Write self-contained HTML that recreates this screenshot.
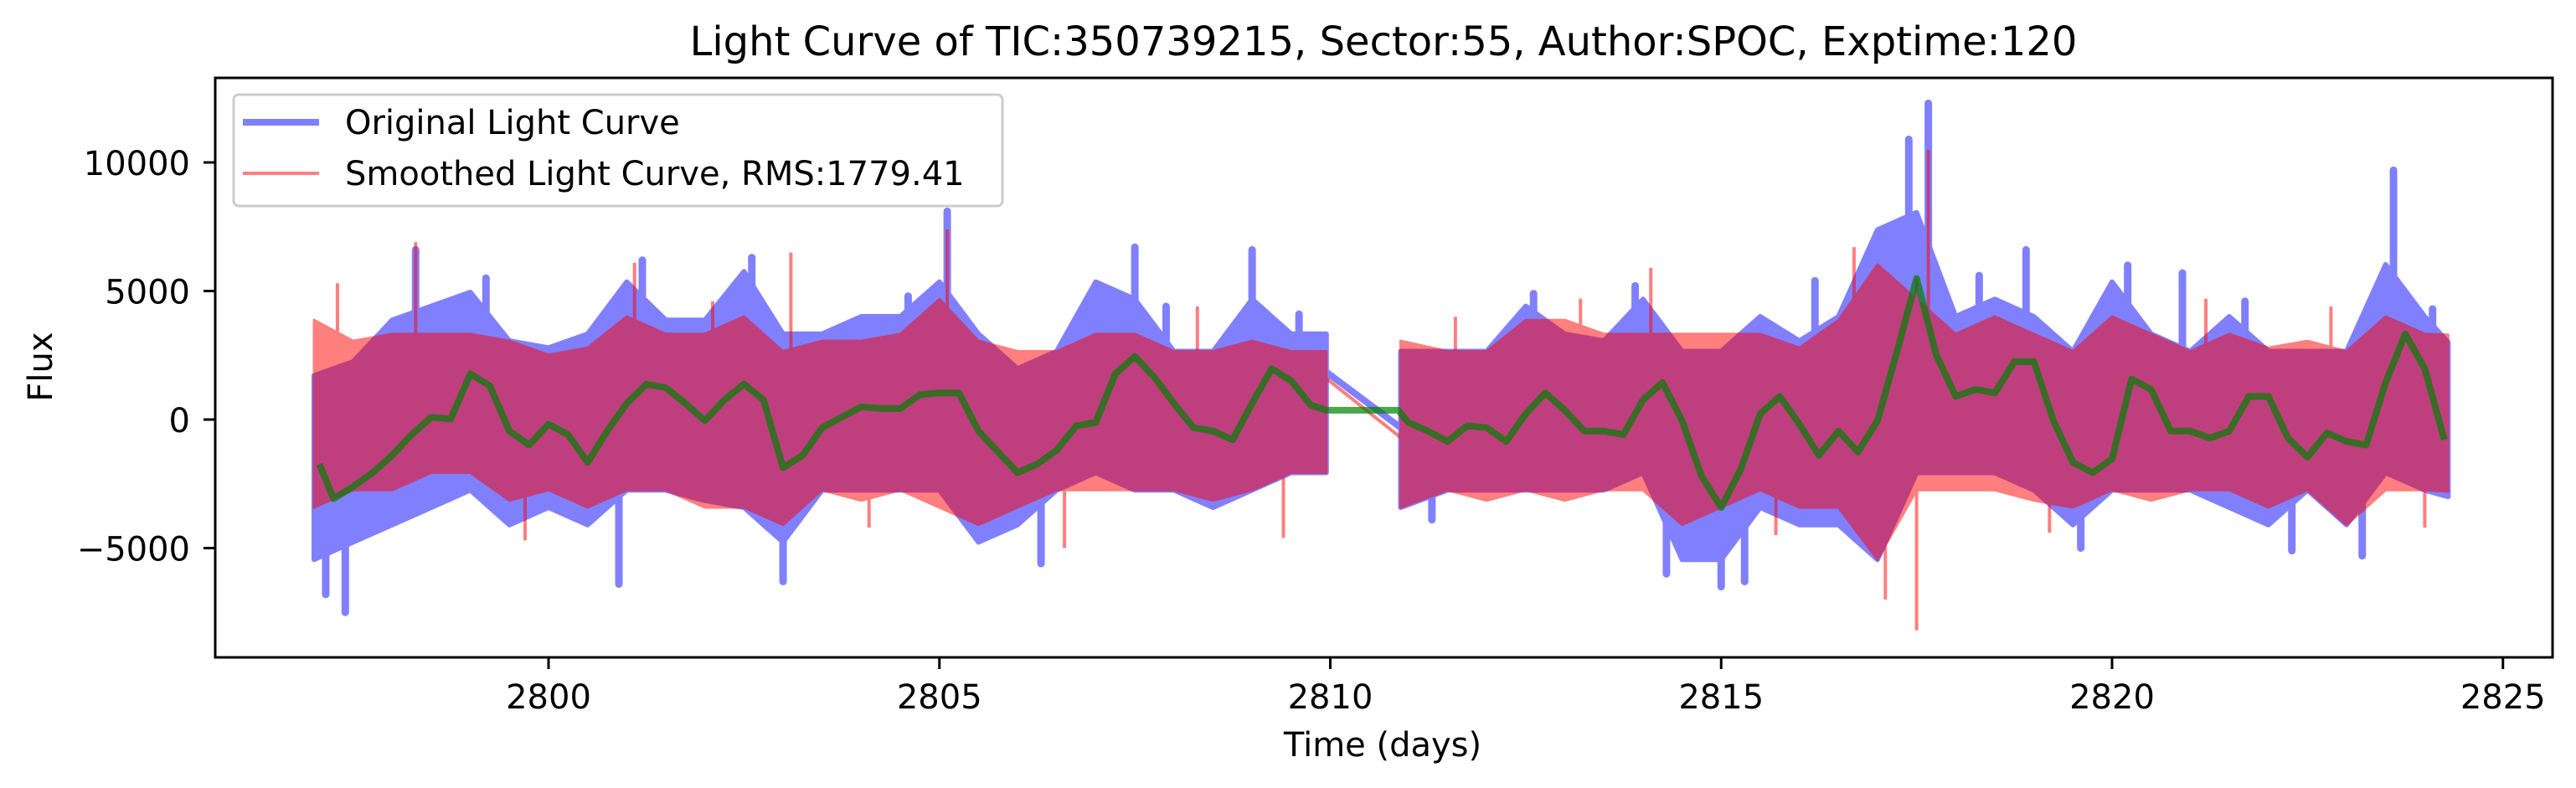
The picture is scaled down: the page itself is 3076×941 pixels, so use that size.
<!DOCTYPE html>
<html><head><meta charset="utf-8">
<style>
html,body{margin:0;padding:0;background:#fff;}
svg{display:block;font-family:"DejaVu Sans","Liberation Sans",sans-serif;}
</style></head>
<body>
<svg id="chart" width="3076" height="941" viewBox="0 0 3076 941" xmlns="http://www.w3.org/2000/svg">
  <rect x="0" y="0" width="3076" height="941" fill="#fff"/>
  <text x="1652" y="66" font-size="48" text-anchor="middle">Light Curve of TIC:350739215, Sector:55, Author:SPOC, Exptime:120</text>
  <g id="plot"></g>
  <g id="axes"></g>
  <text x="1651" y="903" font-size="40" text-anchor="middle">Time (days)</text>
  <text x="0" y="0" font-size="40" text-anchor="middle" transform="translate(62,438) rotate(-90)">Flux</text>
  <g>
    <rect x="279" y="113" width="918" height="133" rx="6" fill="#fff" fill-opacity="0.8" stroke="#ccc" stroke-width="3"/>
    <line x1="290" y1="146" x2="381" y2="146" stroke="#0000ff" stroke-opacity="0.5" stroke-width="8"/>
    <text x="412" y="160" font-size="40">Original Light Curve</text>
    <line x1="290" y1="207" x2="381" y2="207" stroke="#ff0000" stroke-opacity="0.5" stroke-width="4"/>
    <text x="412" y="221" font-size="40">Smoothed Light Curve, RMS:1779.41</text>
  </g>
</svg>
<script>
// ---- data ----
const binTimesA = [2797.0,2797.5,2798.0,2798.5,2799.0,2799.5,2800.0,2800.5,2801.0,2801.5,2802.0,2802.5,2803.0,2803.5,2804.0,2804.5,2805.0,2805.5,2806.0,2806.5,2807.0,2807.5,2808.0,2808.5,2809.0,2809.5,2809.95];
const blueHiA = [1710,2250,3870,4410,4950,3060,2790,3330,5355,3870,3870,5760,3330,3330,4005,4005,5355,3330,1980,2655,5355,4680,2655,2655,4680,3330,3330];
const blueLoA = [-5445,-4770,-4095,-3420,-2745,-4095,-3420,-4095,-2745,-2745,-3150,-3420,-4770,-2745,-2745,-2745,-2745,-4770,-4095,-2745,-2070,-2745,-2745,-3420,-2745,-2070,-2070];
const redHiA = [3870,3060,3330,3330,3330,3060,2520,2790,4005,3330,3330,4005,2655,3060,3060,3330,4680,3060,2655,2655,3330,3330,2655,2655,3060,2655,2655];
const redLoA = [-3420,-2745,-2745,-2070,-2070,-3150,-2745,-3420,-2745,-2745,-3420,-3420,-4095,-2745,-3150,-2745,-3420,-4095,-3420,-2745,-2745,-2745,-2745,-3150,-2745,-2070,-2070];

const binTimesB = [2810.9,2811.5,2812.0,2812.5,2813.0,2813.5,2814.0,2814.5,2815.0,2815.5,2816.0,2816.5,2817.0,2817.5,2818.0,2818.5,2819.0,2819.5,2820.0,2820.5,2821.0,2821.5,2822.0,2822.5,2823.0,2823.5,2824.0,2824.3];
const blueHiB = [2655,2655,2655,4410,3330,3060,4680,2655,2655,4005,3060,4005,7380,8055,4005,4680,4005,2655,5355,3330,2655,4005,2655,2655,2655,6030,4005,3000];
const blueLoB = [-3420,-2745,-2745,-2745,-2745,-2745,-2070,-5445,-5445,-3420,-4095,-4095,-5445,-2070,-2070,-2070,-2745,-4095,-2745,-2745,-2745,-3420,-4095,-2745,-4095,-2070,-2745,-3000];
const redHiB = [3060,2655,2655,3870,3870,3330,3330,3330,3330,3330,2790,3870,6030,4680,3330,4005,3330,2655,4005,3330,2655,3330,2790,3060,2655,4005,3330,3300];
const redLoB = [-3420,-2745,-3150,-2745,-3150,-2745,-2745,-4095,-3420,-2745,-3420,-3420,-5445,-2745,-2745,-2745,-3150,-3420,-2745,-3150,-2745,-2745,-3420,-2745,-4095,-2745,-2745,-2800];

const blueSpikeT = [2797.4,2798.3,2800.9,2805.1,2807.5,2809.0,2815.0,2817.4,2817.65,2823.6,2820.2,2803.0,2818.9,2797.15,2799.2,2801.2,2802.6,2804.6,2806.3,2807.9,2809.6,2811.3,2812.6,2813.9,2814.3,2815.3,2816.2,2818.3,2819.6,2820.9,2821.7,2822.3,2823.2,2824.1];
const blueSpikeV = [-7500,6600,-6400,8100,6700,6600,-6500,10900,12300,9700,6000,-6300,6600,-6800,5500,6200,6300,4800,-5600,4400,4100,-3900,4900,5200,-6000,-6300,5400,5600,-5000,5700,4600,-5100,-5300,4300];
const redSpikeT = [2798.3,2817.5,2817.65,2814.1,2803.1,2816.7,2805.1,2801.1,2797.3,2799.7,2802.1,2804.1,2806.6,2808.3,2809.4,2811.6,2813.2,2815.7,2817.1,2819.2,2821.2,2822.8,2824.0];
const redSpikeV = [6900,-8200,10500,5900,6500,6700,7400,6100,5300,-4700,4600,-4200,-5000,4400,-4600,4000,4700,-4500,-7000,-4400,4700,4400,-4200];

const greenT = [2797.07,2797.25,2797.5,2797.75,2798.0,2798.25,2798.5,2798.75,2799.0,2799.25,2799.5,2799.75,2800.0,2800.25,2800.5,2800.75,2801.0,2801.25,2801.5,2801.75,2802.0,2802.25,2802.5,2802.75,2803.0,2803.25,2803.5,2803.75,2804.0,2804.25,2804.5,2804.75,2805.0,2805.25,2805.5,2805.75,2806.0,2806.25,2806.5,2806.75,2807.0,2807.25,2807.5,2807.75,2808.0,2808.25,2808.5,2808.75,2809.0,2809.25,2809.5,2809.75,2809.95,2810.87,2811.0,2811.25,2811.5,2811.75,2812.0,2812.25,2812.5,2812.75,2813.0,2813.25,2813.5,2813.75,2814.0,2814.25,2814.5,2814.75,2815.0,2815.25,2815.5,2815.75,2816.0,2816.25,2816.5,2816.75,2817.0,2817.25,2817.5,2817.75,2818.0,2818.25,2818.5,2818.75,2819.0,2819.25,2819.5,2819.75,2820.0,2820.25,2820.5,2820.75,2821.0,2821.25,2821.5,2821.75,2822.0,2822.25,2822.5,2822.75,2823.0,2823.25,2823.5,2823.75,2824.0,2824.25];
const greenV = [-1733,-3083,-2610,-2070,-1395,-585,90,23,1778,1305,-450,-990,-180,-585,-1665,-450,630,1373,1238,630,-45,765,1373,765,-1868,-1395,-315,90,495,428,428,968,1035,1035,-450,-1260,-2070,-1733,-1193,-248,-113,1778,2453,1643,630,-315,-450,-788,630,1980,1508,563,360,360,-113,-450,-855,-248,-315,-855,225,1035,360,-450,-450,-585,765,1440,-45,-2205,-3420,-1935,225,900,-180,-1395,-450,-1260,-45,2655,5490,2520,900,1170,1035,2250,2250,-45,-1665,-2070,-1530,1575,1170,-450,-450,-720,-450,900,900,-720,-1463,-518,-855,-990,1440,3330,1980,-788];

const xTicks = [2800,2805,2810,2815,2820,2825];
const yTicks = [-5000,0,5000,10000];
const yTickLabels = ["\u22125000","0","5000","10000"];

// ---- axis functions ----
const AX = {left:257, right:3048, top:93, bottom:785};
function xs(t){ return 655 + (t - 2800) * 93.35; }
function ys(v){ return 501 - v * 0.0307; }

const NS = "http://www.w3.org/2000/svg";
const plot = document.getElementById('plot');
const axes = document.getElementById('axes');
function mk(tag, attrs, parent){
  const e = document.createElementNS(NS, tag);
  for (const k in attrs) e.setAttribute(k, attrs[k]);
  parent.appendChild(e);
  return e;
}
function bandPath(ts, hi, lo){
  let d = '';
  for (let i=0;i<ts.length;i++) d += (i?'L':'M') + xs(ts[i]).toFixed(1) + ',' + ys(hi[i]).toFixed(1);
  for (let i=ts.length-1;i>=0;i--) d += 'L' + xs(ts[i]).toFixed(1) + ',' + ys(lo[i]).toFixed(1);
  return d + 'Z';
}
function greenAt(t){
  for (let i=0;i<greenT.length-1;i++){
    if (t>=greenT[i] && t<=greenT[i+1]){
      const f=(t-greenT[i])/(greenT[i+1]-greenT[i]);
      return greenV[i]+(greenV[i+1]-greenV[i])*f;
    }
  }
  return 0;
}

// blue (original)
const gBlue = mk('g', {}, plot);


[[binTimesA,blueHiA,blueLoA],[binTimesB,blueHiB,blueLoB]].forEach(function(s){
  const p = mk('path', {d: bandPath(s[0],s[1],s[2]), fill:'#8080ff', stroke:'#8080ff', 'stroke-width':6, 'stroke-linejoin':'round'}, gBlue);
  
  
});
blueSpikeT.forEach(function(t,i){
  const l = mk('line', {x1:xs(t), x2:xs(t), y1:ys(greenAt(t)), y2:ys(blueSpikeV[i]), stroke:'#8080ff', 'stroke-width':9, 'stroke-linecap':'round'}, gBlue);
  
  
});
const gapB = mk('line', {x1:xs(binTimesA[binTimesA.length-1]), y1:ys(1845), x2:xs(binTimesB[0]), y2:ys(-315), stroke:'#8080ff', 'stroke-width':8}, gBlue);



// red (smoothed)
const gRed = mk('g', {opacity:0.5}, plot);


[[binTimesA,redHiA,redLoA],[binTimesB,redHiB,redLoB]].forEach(function(s){
  const p = mk('path', {d: bandPath(s[0],s[1],s[2]), fill:'#ff0000', stroke:'#ff0000', 'stroke-width':3, 'stroke-linejoin':'round'}, gRed);
  
  
});
redSpikeT.forEach(function(t,i){
  const l = mk('line', {x1:xs(t), x2:xs(t), y1:ys(greenAt(t)), y2:ys(redSpikeV[i]), stroke:'#ff0000', 'stroke-width':4}, gRed);
  
  
});
const gapR = mk('line', {x1:xs(binTimesA[binTimesA.length-1]), y1:ys(1600), x2:xs(binTimesB[0]), y2:ys(-700), stroke:'#ff0000', 'stroke-width':4}, gRed);



// green trend
let gd = '';
greenT.forEach(function(t,i){ gd += (i?'L':'M') + xs(t).toFixed(1) + ',' + ys(greenV[i]).toFixed(1); });
const gp = mk('path', {d: gd, fill:'none', stroke:'#008000', 'stroke-opacity':0.7, 'stroke-width':8, 'stroke-linejoin':'round'}, plot);



// axes frame
const frame = mk('rect', {x:AX.left, y:AX.top, width:AX.right-AX.left, height:AX.bottom-AX.top, fill:'none', stroke:'#000', 'stroke-width':3}, axes);



xTicks.forEach(function(t){
  const x = xs(t);
  const tk = mk('line', {x1:x, x2:x, y1:AX.bottom, y2:AX.bottom+14, stroke:'#000', 'stroke-width':3}, axes);
  
  
  const tx = mk('text', {x:x, y:846, 'font-size':40, 'text-anchor':'middle'}, axes);
  tx.textContent = String(t);
  
  
});
yTicks.forEach(function(v,i){
  const y = ys(v);
  const tk = mk('line', {x1:AX.left-14, x2:AX.left, y1:y, y2:y, stroke:'#000', 'stroke-width':3}, axes);
  
  
  const tx = mk('text', {x:227, y:y+15, 'font-size':40, 'text-anchor':'end'}, axes);
  tx.textContent = yTickLabels[i];
  
  
});
</script>
</body></html>
